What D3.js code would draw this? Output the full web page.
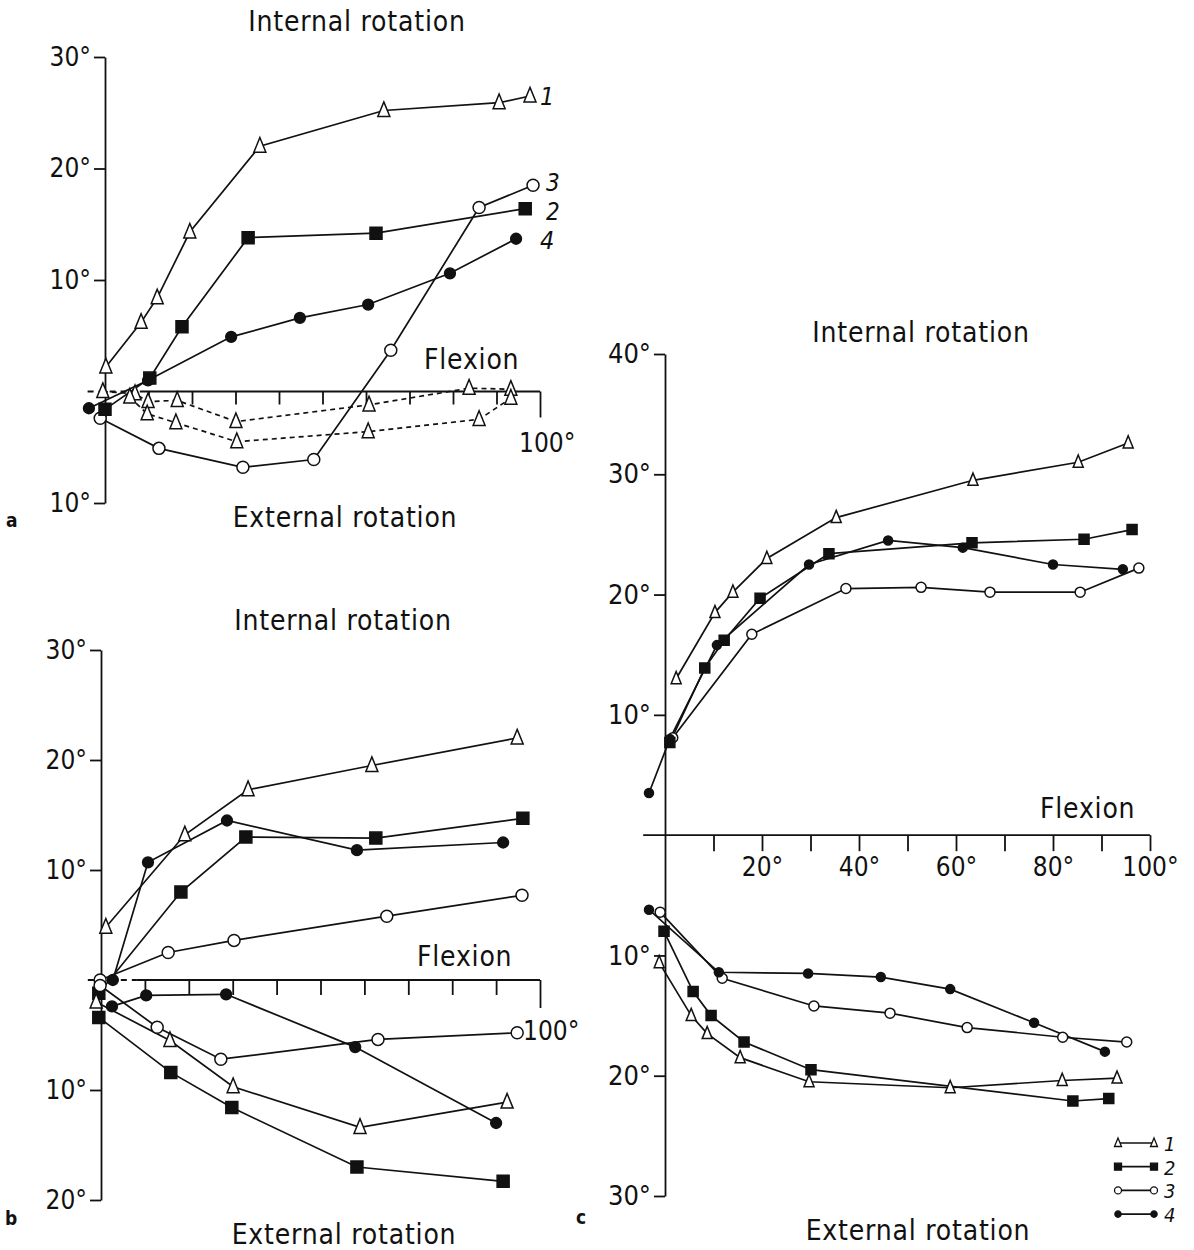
<!DOCTYPE html>
<html>
<head>
<meta charset="utf-8">
<script src="https://cdn.jsdelivr.net/npm/d3@7"></script>
<style>
  body { margin: 0; background: #fff; }
  svg text { font-family: "DejaVu Sans Condensed", "DejaVu Sans", sans-serif; fill: #111; }
</style>
</head>
<body>
<svg id="fig" width="1194" height="1250"></svg>
<script>
// flexion ticks, degrees
var flexTicks = [10, 20, 30, 40, 50, 60, 70, 80, 90, 100];
var flexLabelsC = [20, 40, 60, 80, 100];

// y tick values per panel (negative = external rotation)
var yTicksA = [-10, 10, 20, 30];
var yTicksB = [-20, -10, 10, 20, 30];
var yTicksC = [-30, -20, -10, 10, 20, 30, 40];

// panel a: [flexion, rotation]
var a1 = [[0.2, 2.2], [8.3, 6.2], [12, 8.4], [19.5, 14.3], [35.6, 22], [64.1, 25.2], [90.6, 25.9], [97.7, 26.5]];
var a2 = [[0, -1.6], [10.3, 1.2], [17.7, 5.8], [32.9, 13.8], [62.3, 14.2], [96.6, 16.4]];
var a3 = [[-1.1, -2.4], [12.4, -5.1], [31.7, -6.8], [48, -6.1], [65.7, 3.7], [86, 16.5], [98.4, 18.5]];
var a4 = [[-3.7, -1.5], [9.9, 1.0], [29, 4.9], [44.8, 6.6], [60.5, 7.8], [79.3, 10.6], [94.5, 13.7]];
var a1dashUp = [[-0.5, 0], [6.9, -0.2], [9.9, -0.9], [16.6, -0.8], [30.1, -2.7], [60.7, -1.2], [83.7, 0.3], [93.3, 0.2]];
var a1dashLo = [[5.7, -0.5], [9.7, -2.0], [16.3, -2.8], [30.3, -4.5], [60.5, -3.6], [86, -2.5], [93.3, -0.6]];

// panel b: internal (In) and external (Ex) curves
var b1In = [[1.1, 4.8], [19.1, 13.2], [33.5, 17.3], [61.7, 19.5], [94.8, 22]];
var b2In = [[-0.5, -1.2], [18.2, 8], [33, 13], [62.6, 12.9], [96.1, 14.7]];
var b3In = [[-0.2, 0], [15.3, 2.5], [30.3, 3.6], [65.1, 5.8], [95.9, 7.7]];
var b4In = [[2.7, 0], [10.7, 10.7], [28.7, 14.5], [58.3, 11.8], [91.6, 12.5]];
var b1Ex = [[-1.1, -2], [15.7, -5.5], [30.1, -9.7], [59, -13.4], [92.5, -11.1]];
var b2Ex = [[-0.5, -3.4], [15.9, -8.4], [29.8, -11.6], [58.3, -17], [91.6, -18.3]];
var b3Ex = [[-0.2, -0.5], [12.8, -4.3], [27.3, -7.2], [63.1, -5.4], [94.8, -4.8]];
var b4Ex = [[2.5, -2.4], [10.3, -1.4], [28.5, -1.3], [57.9, -6.1], [90, -13]];

// panel c
var c1In = [[2.3, 13], [10.3, 18.5], [14, 20.2], [21, 23], [35.3, 26.4], [63.5, 29.5], [85.2, 31], [95.5, 32.6]];
var c2In = [[1, 7.7], [8.2, 13.9], [12.2, 16.2], [19.6, 19.7], [33.8, 23.4], [63.3, 24.3], [86.4, 24.6], [96.3, 25.4]];
var c3In = [[1.6, 8.1], [17.9, 16.7], [37.3, 20.5], [52.8, 20.6], [67, 20.2], [85.6, 20.2], [97.7, 22.2]];
var c4In = [[-3.3, 3.5], [1, 8], [10.7, 15.8], [29.7, 22.5], [46, 24.5], [61.4, 23.9], [80, 22.5], [94.4, 22.1]];
var c1Ex = [[-1.2, -10.6], [5.4, -15], [8.7, -16.5], [15.5, -18.5], [29.7, -20.5], [58.8, -21], [81.9, -20.4], [93.2, -20.2]];
var c2Ex = [[-0.2, -8], [5.8, -13], [9.5, -15], [16.3, -17.2], [30.1, -19.5], [84.1, -22.1], [91.5, -21.9]];
var c3Ex = [[-1, -6.4], [11.8, -11.9], [30.7, -14.2], [46.4, -14.8], [62.3, -16], [82, -16.8], [95.2, -17.2]];
var c4Ex = [[-3.3, -6.2], [11.1, -11.4], [29.5, -11.5], [44.5, -11.8], [58.8, -12.8], [76.1, -15.6], [90.7, -18]];

var legendKeys = ["1", "2", "3", "4"];
var legendSyms = ["tri", "sq", "circ", "dot"];

var svg = d3.select("#fig");
var ink = "#111";

function symPath(type, s) {
  if (type === "tri") return "M0," + (-0.72 * s) + "L" + (s / 2) + "," + (0.5 * s) + "L" + (-s / 2) + "," + (0.5 * s) + "Z";
  if (type === "sq") return "M" + (-s / 2) + "," + (-s / 2) + "h" + s + "v" + s + "h" + (-s) + "Z";
  var r = type === "dot" ? s * 0.45 : s * 0.5;
  return d3.symbol().type(d3.symbolCircle).size(Math.PI * r * r)();
}

function drawSeries(g, x, y, list, s) {
  var line = d3.line().x(function (d) { return x(d[0]); }).y(function (d) { return y(d[1]); });
  list.forEach(function (ser) {
    g.append("path").datum(ser.data)
      .attr("d", line)
      .attr("fill", "none")
      .attr("stroke", ink)
      .attr("stroke-width", 1.7)
      .attr("stroke-dasharray", ser.dash ? "5,4" : null);
  });
  list.forEach(function (ser) {
    var filled = ser.sym === "sq" || ser.sym === "dot";
    g.selectAll(null).data(ser.data).enter().append("path")
      .attr("transform", function (d) { return "translate(" + x(d[0]) + "," + y(d[1]) + ")"; })
      .attr("d", symPath(ser.sym, s))
      .attr("fill", filled ? ink : "#fff")
      .attr("stroke", ink)
      .attr("stroke-width", 1.5);
  });
}

function yAxis(g, x, y, ticks, fs) {
  var ax = d3.axisLeft(y).tickValues(ticks).tickSize(11).tickSizeOuter(0).tickPadding(3)
    .tickFormat(function (d) { return Math.abs(d) + "°"; });
  var ga = g.append("g").attr("transform", "translate(" + x(0) + ",0)").call(ax);
  ga.select(".domain").attr("stroke", ink).attr("stroke-width", 1.8);
  ga.selectAll(".tick line").attr("stroke", ink).attr("stroke-width", 1.8);
  ga.selectAll("text").attr("font-size", fs).attr("fill", ink)
    .attr("font-family", "DejaVu Sans Condensed, DejaVu Sans");
}

function flexAxis(g, x, y, tickLen, longLen, fmt, x0, dashTo) {
  var ax = d3.axisBottom(x).tickValues(flexTicks).tickSize(tickLen).tickSizeOuter(0).tickPadding(6)
    .tickFormat(fmt);
  var ga = g.append("g").attr("transform", "translate(0," + y(0) + ")").call(ax);
  ga.select(".domain").remove();
  ga.selectAll(".tick line").attr("stroke", ink).attr("stroke-width", 1.8)
    .filter(function (d) { return d === 100; }).attr("y2", longLen);
  ga.selectAll("text").attr("font-size", 26).attr("fill", ink)
    .attr("font-family", "DejaVu Sans Condensed, DejaVu Sans");
  g.append("line").attr("x1", x(dashTo)).attr("x2", x(100)).attr("y1", y(0)).attr("y2", y(0))
    .attr("stroke", ink).attr("stroke-width", 1.8);
  if (x0 < dashTo) {
    g.append("line").attr("x1", x(x0)).attr("x2", x(dashTo)).attr("y1", y(0)).attr("y2", y(0))
      .attr("stroke", ink).attr("stroke-width", 1.8).attr("stroke-dasharray", "6,5");
  }
}

function label(g, txt, px, py, fs, anchor, style) {
  var t = g.append("text").attr("x", px).attr("y", py).attr("font-size", fs)
    .attr("text-anchor", anchor || "start").text(txt);
  if (style === "italic") t.attr("font-style", "italic");
  if (style === "title") t.attr("letter-spacing", 0.8);
  if (style === "letter") t.attr("font-family", "Liberation Serif").attr("font-weight", "bold");
  return t;
}

// ---------- panel a ----------
var xA = d3.scaleLinear().domain([0, 100]).range([105, 540]);
var yA = d3.scaleLinear().domain([-10, 30]).range([503, 57]);
var gA = svg.append("g");
yAxis(gA, xA, yA, yTicksA, 26);
flexAxis(gA, xA, yA, 13, 26, "", -4, 8);
drawSeries(gA, xA, yA, [
  { data: a1dashUp, sym: "tri", dash: true },
  { data: a1dashLo, sym: "tri", dash: true },
  { data: a3, sym: "circ" },
  { data: a4, sym: "dot" },
  { data: a2, sym: "sq" },
  { data: a1, sym: "tri" }
], 12);
label(gA, "Internal rotation", 357, 31, 28, "middle", "title");
label(gA, "External rotation", 345, 527, 28, "middle", "title");
label(gA, "Flexion", 424, 369, 28, "start", "title");
label(gA, "100°", 519, 452, 26);
label(gA, "1", 540, 105, 25, "start", "italic");
label(gA, "3", 546, 191, 24, "start", "italic");
label(gA, "2", 546, 220, 24, "start", "italic");
label(gA, "4", 540, 249, 25, "start", "italic");
label(gA, "a", 6, 527, 19, "start", "letter");

// ---------- panel b ----------
var xB = d3.scaleLinear().domain([0, 100]).range([101, 540]);
var yB = d3.scaleLinear().domain([-20, 30]).range([1200, 650]);
var gB = svg.append("g");
yAxis(gB, xB, yB, yTicksB, 26);
flexAxis(gB, xB, yB, 15, 28, "", -3, 8);
drawSeries(gB, xB, yB, [
  { data: b3In, sym: "circ" }, { data: b4In, sym: "dot" }, { data: b2In, sym: "sq" }, { data: b1In, sym: "tri" },
  { data: b3Ex, sym: "circ" }, { data: b4Ex, sym: "dot" }, { data: b2Ex, sym: "sq" }, { data: b1Ex, sym: "tri" }
], 12);
label(gB, "Internal rotation", 343, 630, 28, "middle", "title");
label(gB, "External rotation", 344, 1244, 28, "middle", "title");
label(gB, "Flexion", 417, 966, 28, "start", "title");
label(gB, "100°", 523, 1040, 26);
label(gB, "b", 5, 1225, 19, "start", "letter");

// ---------- panel c ----------
var xC = d3.scaleLinear().domain([0, 100]).range([665, 1150]);
var yC = d3.scaleLinear().domain([-30, 40]).range([1196, 354]);
var gC = svg.append("g");
yAxis(gC, xC, yC, yTicksC, 27);
flexAxis(gC, xC, yC, 16, 16, function (d) { return flexLabelsC.indexOf(d) >= 0 ? d + "°" : ""; }, -4.5, -4.5);
drawSeries(gC, xC, yC, [
  { data: c3In, sym: "circ" }, { data: c4In, sym: "dot" }, { data: c2In, sym: "sq" }, { data: c1In, sym: "tri" },
  { data: c3Ex, sym: "circ" }, { data: c4Ex, sym: "dot" }, { data: c2Ex, sym: "sq" }, { data: c1Ex, sym: "tri" }
], 10);
label(gC, "Internal rotation", 921, 342, 28, "middle", "title");
label(gC, "External rotation", 918, 1240, 28, "middle", "title");
label(gC, "Flexion", 1040, 818, 28, "start", "title");
label(gC, "c", 576, 1224, 19, "start", "letter");

// legend
var gL = gC.append("g");
legendKeys.forEach(function (k, i) {
  var ly = 1143 + i * 23.7;
  var filled = legendSyms[i] === "sq" || legendSyms[i] === "dot";
  gL.append("line").attr("x1", 1118).attr("x2", 1154).attr("y1", ly).attr("y2", ly)
    .attr("stroke", ink).attr("stroke-width", 1.7);
  [1118, 1154].forEach(function (lx) {
    gL.append("path").attr("transform", "translate(" + lx + "," + ly + ")")
      .attr("d", symPath(legendSyms[i], 7))
      .attr("fill", filled ? ink : "#fff").attr("stroke", ink).attr("stroke-width", 1.3);
  });
  label(gL, k, 1164, ly + 8, 20, "start", "italic");
});
</script>
</body>
</html>
